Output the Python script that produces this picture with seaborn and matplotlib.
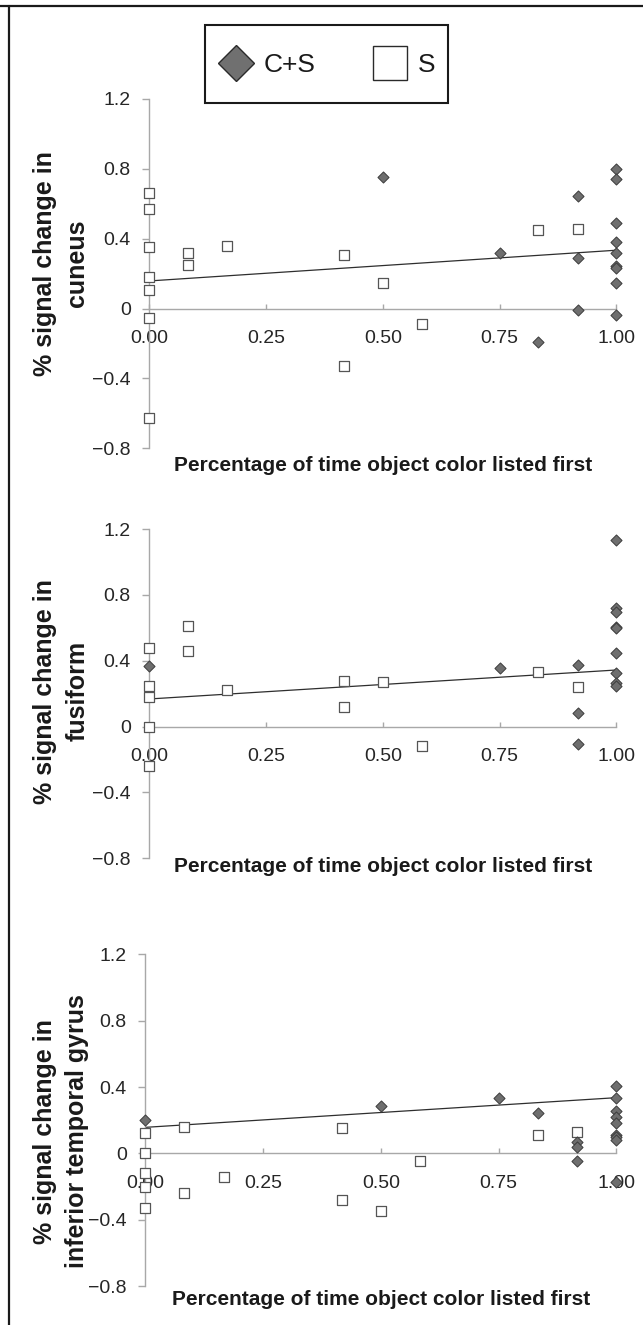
import matplotlib
matplotlib.use("Agg")
import matplotlib.pyplot as plt
import seaborn as sns
import pandas as pd
from matplotlib.lines import Line2D

# ---------------- data ----------------
panel_labels = ["% signal change in\ncuneus",
                "% signal change in\nfusiform",
                "% signal change in\ninferior temporal gyrus"]
x_title = "Percentage of time object color listed first"
legend_labels = ["C+S", "S"]

x_ticks = [0.0, 0.25, 0.5, 0.75, 1.0]
x_tick_labels = ["0.00", "0.25", "0.50", "0.75", "1.00"]
y_ticks = [1.2, 0.8, 0.4, 0.0, -0.4, -0.8]
y_tick_labels = ["1.2", "0.8", "0.4", "0", "\u22120.4", "\u22120.8"]

# panel 1: cuneus
s_x1 = [0, 0, 0, 0, 0, 0, 0, 0.083, 0.083, 0.167, 0.417, 0.417, 0.5, 0.583, 0.833, 0.917]
s_y1 = [0.66, 0.57, 0.355, 0.18, 0.107, -0.052, -0.624, 0.317, 0.248, 0.359, 0.307, -0.328,
        0.149, -0.09, 0.45, 0.456]
cs_x1 = [0.5, 0.75, 0.833, 0.917, 0.917, 0.917, 1, 1, 1, 1, 1, 1, 1, 1, 1]
cs_y1 = [0.754, 0.319, -0.193, 0.643, 0.292, -0.011, 0.80, 0.742, 0.489, 0.38, 0.319, 0.246,
         0.231, 0.149, -0.036]

# panel 2: fusiform
s_x2 = [0, 0, 0, 0, 0, 0.083, 0.083, 0.167, 0.417, 0.417, 0.5, 0.583, 0.833, 0.917]
s_y2 = [0.48, 0.249, 0.182, 0.0, -0.237, 0.613, 0.46, 0.223, 0.277, 0.117, 0.273, -0.115,
        0.334, 0.239]
cs_x2 = [0, 0.75, 0.917, 0.917, 0.917, 1, 1, 1, 1, 1, 1, 1, 1, 1]
cs_y2 = [0.368, 0.354, 0.374, 0.08, -0.105, 1.134, 0.719, 0.694, 0.607, 0.597, 0.445, 0.324,
         0.263, 0.247]

# panel 3: inferior temporal gyrus
s_x3 = [0, 0, 0, 0, 0, 0.083, 0.083, 0.167, 0.417, 0.417, 0.5, 0.583, 0.833, 0.917]
s_y3 = [0.125, 0.0, -0.121, -0.201, -0.332, 0.161, -0.241, -0.145, 0.151, -0.281, -0.346,
        -0.044, 0.111, 0.131]
cs_x3 = [0, 0.5, 0.75, 0.833, 0.917, 0.917, 0.917, 1, 1, 1, 1, 1, 1, 1, 1, 1]
cs_y3 = [0.201, 0.287, 0.332, 0.241, 0.07, 0.04, -0.044, 0.406, 0.332, 0.257, 0.221, 0.185,
         0.111, 0.096, 0.08, -0.175]

# fitted trend lines (values at x = 0 and x = 1)
trend_x = [0.0, 1.0]
trend_y1 = [0.158, 0.334]
trend_y2 = [0.168, 0.344]
trend_y3 = [0.157, 0.336]

# ---------------- style ----------------
sns.set_style("white")
plt.rcParams["font.family"] = ["Liberation Sans", "DejaVu Sans"]

AXIS_GRAY = "#a8a8a8"
TEXT = "#262626"

fig = plt.figure(figsize=(6.43, 13.25), dpi=100)

rects = [[0.2322, 0.6617, 0.7263, 0.2636],
         [0.2322, 0.3522, 0.7263, 0.2485],
         [0.2260, 0.0294, 0.7325, 0.2503]]
ylabel_y = [0.53, 0.507, 0.467]
ylabel_x = [-0.189, -0.189, -0.179]
xlabel_y = [-0.048, -0.026, -0.042]

panels = [(s_x1, s_y1, cs_x1, cs_y1, trend_y1),
          (s_x2, s_y2, cs_x2, cs_y2, trend_y2),
          (s_x3, s_y3, cs_x3, cs_y3, trend_y3)]

for i, (sx, sy, cx, cy, ty) in enumerate(panels):
    ax = fig.add_axes(rects[i])
    df_s = pd.DataFrame({"x": sx, "y": sy})
    df_c = pd.DataFrame({"x": cx, "y": cy})
    df_t = pd.DataFrame({"x": trend_x, "y": ty})

    sns.lineplot(data=df_t, x="x", y="y", ax=ax, color="#2e2e2e", linewidth=0.9,
                 zorder=2, legend=False)
    sns.scatterplot(data=df_s, x="x", y="y", ax=ax, marker="s", s=48, color="white",
                    edgecolor="#555555", linewidth=0.9, clip_on=False, zorder=3,
                    legend=False)
    sns.scatterplot(data=df_c, x="x", y="y", ax=ax, marker="D", s=32, color="#6e6e6e",
                    edgecolor="#3c3c3c", linewidth=0.7, clip_on=False, zorder=4,
                    legend=False)

    ax.set_xlim(0, 1)
    ax.set_ylim(-0.8, 1.2)
    ax.set_facecolor("none")
    for side in ["top", "right"]:
        ax.spines[side].set_visible(False)
    ax.spines["bottom"].set_position(("data", 0))
    for side in ["left", "bottom"]:
        ax.spines[side].set_color(AXIS_GRAY)
        ax.spines[side].set_linewidth(1.0)

    ax.set_xticks(x_ticks)
    ax.set_xticklabels(x_tick_labels)
    ax.set_yticks(y_ticks)
    ax.set_yticklabels(y_tick_labels)
    ax.tick_params(axis="x", direction="in", length=3.4, width=1.0, color=AXIS_GRAY,
                   pad=15.5, labelsize=14, labelcolor=TEXT)
    ax.tick_params(axis="y", direction="out", length=4.8, width=1.0, color=AXIS_GRAY,
                   pad=8.5, labelsize=14, labelcolor=TEXT)
    ax.tick_params(left=True, bottom=True)

    ax.set_ylabel(panel_labels[i], fontsize=18, fontweight="bold", color="#1a1a1a",
                  linespacing=1.45, va="center", ha="center")
    ax.yaxis.set_label_coords(ylabel_x[i], ylabel_y[i])
    ax.set_xlabel(x_title, fontsize=15, fontweight="bold", color="#1a1a1a", va="center")
    ax.xaxis.set_label_coords(0.5, xlabel_y[i])

# legend
handles = [Line2D([], [], linestyle="none", marker="D", markersize=18.5,
                  markerfacecolor="#707070", markeredgecolor="#2a2a2a", markeredgewidth=1.0),
           Line2D([], [], linestyle="none", marker="s", markersize=24,
                  markerfacecolor="white", markeredgecolor="#2a2a2a", markeredgewidth=1.0)]
leg = fig.legend(handles, legend_labels, ncol=2, loc="center",
                 bbox_to_anchor=(0.5078, 0.9517), frameon=True, fancybox=False,
                 edgecolor="#1a1a1a", framealpha=1, fontsize=19, handlelength=1.4,
                 handleheight=2.6, handletextpad=0.35, columnspacing=2.1, borderpad=0.5,
                 borderaxespad=0)
leg.get_frame().set_linewidth(1.5)
for t in leg.get_texts():
    t.set_color("#1a1a1a")
# re-centre the legend symbols on their text (tall handle box lifts them)
for h in leg.legend_handles:
    h.set_ydata([v - 5.4 for v in h.get_ydata()])

# page frame (top and left rules)
fig.add_artist(Line2D([0, 1], [1 - 5.5 / 1325, 1 - 5.5 / 1325], transform=fig.transFigure,
                      color="#1a1a1a", linewidth=1.6))
fig.add_artist(Line2D([8.5 / 643, 8.5 / 643], [0, 1 - 5.5 / 1325], transform=fig.transFigure,
                      color="#1a1a1a", linewidth=1.6))

fig.savefig("out.png", dpi=100)
